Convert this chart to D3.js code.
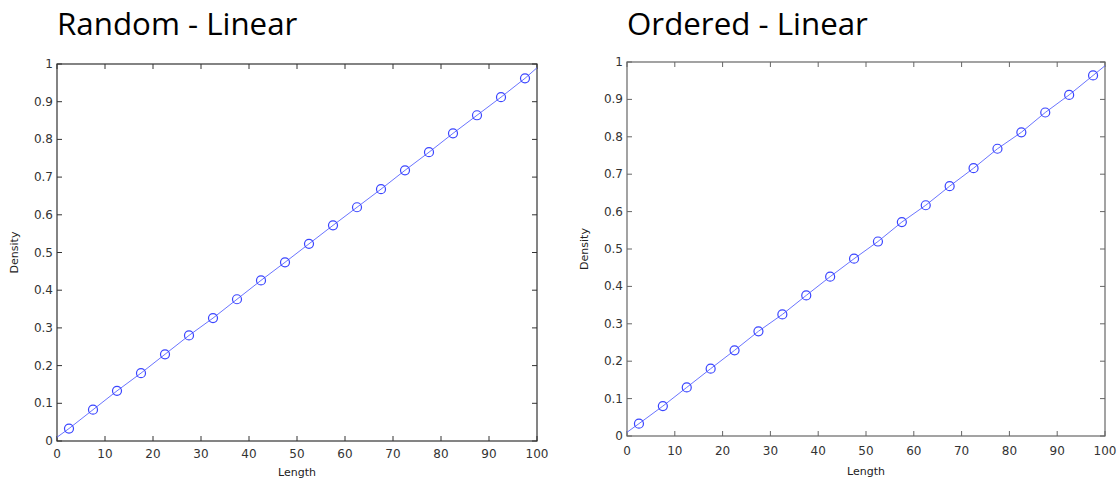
<!DOCTYPE html>
<html lang="en">
<head>
    <meta charset="UTF-8">
    <title>Random vs Ordered - Linear</title>
    <script src="https://cdnjs.cloudflare.com/ajax/libs/d3/7.8.5/d3.min.js"></script>
    <style>
        body { margin: 0; background: #fff; }
        svg { display: block; }
        .title { font-family: "Open Sans", sans-serif; font-size: 31.3px; fill: #000; }
        .tick-label { font-family: "DejaVu Sans", sans-serif; font-size: 12px; fill: #333; }
        .axis-label { font-family: "DejaVu Sans", sans-serif; font-size: 11px; fill: #222; }
    </style>
</head>
<body>
<svg id="svg" width="1119" height="481"></svg>
<script>
    // marker positions (Length) and Density values
    const lengths = [2.5, 7.5, 12.5, 17.5, 22.5, 27.5, 32.5, 37.5, 42.5, 47.5,
                     52.5, 57.5, 62.5, 67.5, 72.5, 77.5, 82.5, 87.5, 92.5, 97.5];
    const randomDensity = [0.033, 0.083, 0.133, 0.180, 0.230, 0.280, 0.326, 0.376, 0.426, 0.474,
                           0.523, 0.572, 0.620, 0.668, 0.718, 0.766, 0.816, 0.864, 0.912, 0.962];
    const orderedDensity = [0.033, 0.080, 0.130, 0.180, 0.229, 0.280, 0.325, 0.376, 0.426, 0.474,
                            0.520, 0.572, 0.617, 0.668, 0.716, 0.768, 0.812, 0.865, 0.912, 0.964];
    // line end points
    const lineStart = [0, 0.01];
    const lineEnd = [100, 0.99];
    const xTicks = [0, 10, 20, 30, 40, 50, 60, 70, 80, 90, 100];
    const yTicks = [0, 0.1, 0.2, 0.3, 0.4, 0.5, 0.6, 0.7, 0.8, 0.9, 1];

    const svg = d3.select("#svg");

    function drawPanel(opts) {
        const g = svg.append("g");
        const x = d3.scaleLinear().domain([0, 100]).range([opts.left, opts.right]);
        const y = d3.scaleLinear().domain([0, 1]).range([opts.bottom, opts.top]);

        g.append("text").attr("class", "title")
            .attr("x", opts.left).attr("y", opts.titleY)
            .text(opts.title);

        // ticks (inside, all four sides)
        const tl = 5;
        xTicks.forEach(t => {
            g.append("line").attr("x1", x(t)).attr("x2", x(t))
                .attr("y1", opts.bottom).attr("y2", opts.bottom - tl)
                .attr("stroke", opts.axisColor);
            g.append("line").attr("x1", x(t)).attr("x2", x(t))
                .attr("y1", opts.top).attr("y2", opts.top + tl)
                .attr("stroke", opts.axisColor);
            g.append("text").attr("class", "tick-label")
                .attr("x", x(t)).attr("y", opts.bottom + opts.tickDy)
                .attr("text-anchor", "middle").text(t);
        });
        yTicks.forEach(t => {
            g.append("line").attr("x1", opts.left).attr("x2", opts.left + tl)
                .attr("y1", y(t)).attr("y2", y(t))
                .attr("stroke", opts.axisColor);
            g.append("line").attr("x1", opts.right).attr("x2", opts.right - tl)
                .attr("y1", y(t)).attr("y2", y(t))
                .attr("stroke", opts.axisColor);
            g.append("text").attr("class", "tick-label")
                .attr("x", opts.left - 4).attr("y", y(t) + 4)
                .attr("text-anchor", "end").text(t);
        });

        g.append("rect")
            .attr("x", opts.left).attr("y", opts.top)
            .attr("width", opts.right - opts.left).attr("height", opts.bottom - opts.top)
            .attr("fill", "none").attr("stroke", opts.axisColor).attr("stroke-width", 1.2);

        const pts = [lineStart].concat(lengths.map((l, i) => [l, opts.values[i]]), [lineEnd]);
        const line = d3.line().x(d => x(d[0])).y(d => y(d[1]));
        g.append("path").datum(pts)
            .attr("d", line)
            .attr("fill", "none")
            .attr("stroke", "#6a74ff")
            .attr("stroke-width", 1);

        g.selectAll(".marker")
            .data(lengths.map((l, i) => [l, opts.values[i]]))
            .enter().append("circle")
            .attr("class", "marker")
            .attr("cx", d => x(d[0])).attr("cy", d => y(d[1]))
            .attr("r", 4.5)
            .attr("fill", "none")
            .attr("stroke", "#3a45ff")
            .attr("stroke-width", 1.2);

        g.append("text").attr("class", "axis-label")
            .attr("x", (opts.left + opts.right) / 2).attr("y", opts.bottom + opts.labelDy)
            .attr("text-anchor", "middle").text("Length");
        g.append("text").attr("class", "axis-label")
            .attr("transform", `translate(${opts.left - 39},${(opts.top + opts.bottom) / 2}) rotate(-90)`)
            .attr("text-anchor", "middle").text("Density");
    }

    drawPanel({ title: "Random - Linear", values: randomDensity, titleY: 35,
                left: 57, right: 537, top: 64, bottom: 441, tickDy: 17, labelDy: 35,
                axisColor: "#333" });
    drawPanel({ title: "Ordered - Linear", values: orderedDensity, titleY: 35,
                left: 627, right: 1105, top: 62, bottom: 436, tickDy: 19, labelDy: 39,
                axisColor: "#666" });
</script>
</body>
</html>
